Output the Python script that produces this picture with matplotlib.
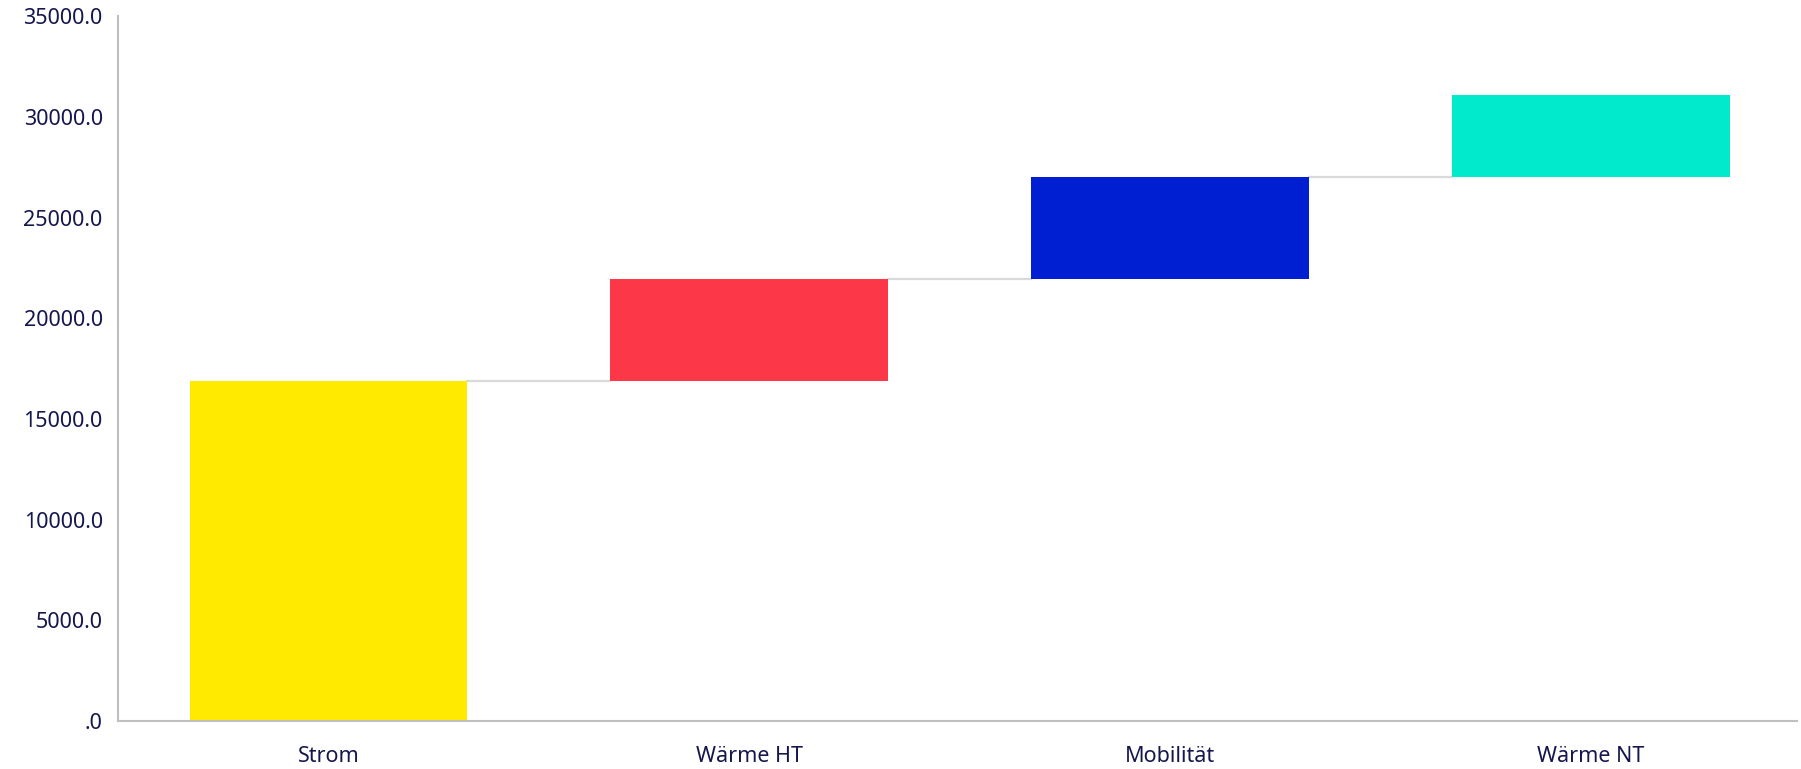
import matplotlib.pyplot as plt
from matplotlib.ticker import FuncFormatter

plt.rcParams['font.family'] = ['Noto Sans', 'DejaVu Sans']

categories = ['Strom', 'Wärme HT', 'Mobilität', 'Wärme NT']
values = [16900, 5050, 5060, 4070]
colors = ['#FFEA00', '#FB3748', '#001FD3', '#00EACB']

bottoms = []
total = 0
for v in values:
    bottoms.append(total)
    total += v

fig = plt.figure(figsize=(18.01, 7.69), dpi=100)
ax = fig.add_axes([0.0655, 0.0624, 0.9325, 0.9166])

x = range(len(categories))
width = 0.66
ax.bar(x, values, bottom=bottoms, width=width, color=colors, zorder=2)

# connector lines between bars
for i in range(len(values) - 1):
    top = bottoms[i] + values[i]
    ax.plot([i + width / 2, i + 1 - width / 2], [top, top], color='#d9d9d9', lw=1.6, zorder=1)

ax.set_xlim(-0.5, 3.49)
ax.set_ylim(0, 35000)
ax.set_yticks(range(0, 35001, 5000))
ax.yaxis.set_major_formatter(FuncFormatter(lambda v, p: '.0' if v == 0 else f'{v:.1f}'))
ax.set_xticks(list(x))
ax.set_xticklabels(categories)

label_color = '#16164f'
ax.tick_params(axis='both', length=0, labelsize=15.5, labelcolor=label_color)
ax.tick_params(axis='y', pad=11)
ax.tick_params(axis='x', pad=18)

for s in ['top', 'right']:
    ax.spines[s].set_visible(False)
for s in ['left', 'bottom']:
    ax.spines[s].set_color('#bfbfbf')
    ax.spines[s].set_linewidth(1.5)

fig.savefig('out.png', dpi=100)
